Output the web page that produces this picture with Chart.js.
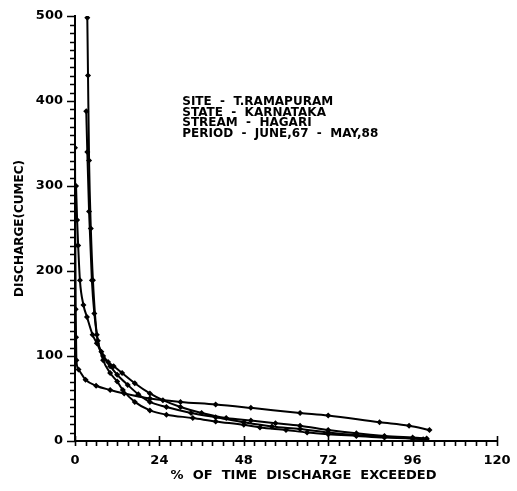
<!DOCTYPE html>
<html>
<head>
<meta charset="utf-8">
<script src="https://cdn.jsdelivr.net/npm/chart.js@4.4.1/dist/chart.umd.min.js"></script>
<style>
  html, body { margin: 0; padding: 0; background: #fff; }
  #wrap { width: 517px; height: 491px; position: relative; }
</style>
</head>
<body>
<div id="wrap"><canvas id="myChart"></canvas></div>
<script>
// flow duration curves
const bX = [3.5, 3.7, 4.0, 4.5, 5.1, 6.2, 7.5, 9.4, 11, 13.4, 17, 21.3, 25, 30, 36, 43, 50, 57, 64, 72, 80, 88, 96, 100];
const bY = [498, 430, 330, 250, 189, 125, 105, 93, 88, 80, 68, 56, 48, 40, 33, 27, 24, 21, 18, 13, 9, 6, 4, 3];

const cX = [0.3, 0.6, 0.9, 1.4, 2.4, 3.4, 5, 6.2, 8, 10, 12, 15, 18, 21.3, 26, 33, 40, 48, 56, 64, 72, 80, 88, 96, 100];
const cY = [300, 260, 230, 189, 160, 146, 125, 115, 100, 88, 78, 66, 55, 46, 40, 33, 28, 22, 17, 14, 10, 7, 5, 3, 2];

const dX = [3.2, 3.5, 4, 4.8, 5.5, 6.5, 8, 10, 12, 13.6, 17, 21.3, 26, 33.5, 40, 48, 52.6, 60, 66, 72, 80, 88, 96, 99];
const dY = [388, 340, 270, 189, 150, 118, 95, 80, 70, 60, 46, 36, 31, 27, 23, 19, 16, 13, 10, 8, 6, 4, 3, 2];

const eX = [0, 0.1, 0.2, 0.3, 0.4, 1, 3, 6, 10, 14, 21.3, 30, 40, 50, 64, 72, 86.6, 95, 100.8];
const eY = [345, 230, 155, 122, 95, 84, 72, 65, 60, 56, 50, 46, 43, 39, 33, 30, 22, 18, 13];

const xTickLabels = [0, 24, 48, 72, 96, 120];
const yTickLabels = [0, 100, 200, 300, 400, 500];

const xTitle = "%  OF  TIME  DISCHARGE  EXCEEDED";
const yTitle = "DISCHARGE(CUMEC)";

const noteLines = [
  "SITE  -  T.RAMAPURAM",
  "STATE  -  KARNATAKA",
  "STREAM  -  HAGARI",
  "PERIOD  -  JUNE,67  -  MAY,88"
];

const FONT = "'DejaVu Sans', sans-serif";

function pts(xs, ys) {
  return xs.map((x, i) => ({ x: x, y: ys[i] }));
}

function series(xs, ys) {
  return {
    data: pts(xs, ys),
    borderColor: "#000",
    backgroundColor: "#000",
    borderWidth: 2,
    pointStyle: "rectRot",
    pointRadius: 1.6,
    pointHoverRadius: 1.6,
    cubicInterpolationMode: "monotone",
  };
}

// comb of tick marks on both axes (minor every step, major where labelled)
const tickPlugin = {
  id: "combTicks",
  afterDraw(chart) {
    const ctx = chart.ctx;
    const xs = chart.scales.x, ys = chart.scales.y;
    const area = chart.chartArea;
    ctx.save();
    ctx.strokeStyle = "#000";
    ctx.lineWidth = 1.6;
    ctx.beginPath();
    xs.ticks.forEach((t) => {
      const px = Math.round(xs.getPixelForValue(t.value)) + 0.5;
      const major = xTickLabels.includes(t.value);
      ctx.moveTo(px, area.bottom + (major ? -5 : 0));
      ctx.lineTo(px, area.bottom + 5);
    });
    ys.ticks.forEach((t) => {
      const py = Math.round(ys.getPixelForValue(t.value)) + 0.5;
      const major = yTickLabels.includes(t.value);
      ctx.moveTo(area.left - (major ? 8 : 5), py);
      ctx.lineTo(area.left, py);
    });
    ctx.stroke();

    // x axis title sits a little right of the plot centre in the original
    ctx.fillStyle = "#000";
    ctx.font = "bold 13px " + FONT;
    ctx.textAlign = "center";
    ctx.textBaseline = "middle";
    ctx.fillText(xTitle, xs.getPixelForValue(65), area.bottom + 35);
    ctx.restore();
  }
};

// text block in the upper middle of the plot
const notePlugin = {
  id: "note",
  afterDatasetsDraw(chart) {
    const ctx = chart.ctx;
    const xs = chart.scales.x, ys = chart.scales.y;
    const left = xs.getPixelForValue(30.5);
    const top = ys.getPixelForValue(406);
    ctx.save();
    ctx.fillStyle = "#000";
    ctx.font = "bold 12px " + FONT;
    ctx.textBaseline = "top";
    noteLines.forEach((t, i) => {
      ctx.fillText(t, left, top + i * 10.5);
    });
    ctx.restore();
  }
};

const mychart = document.getElementById("myChart");

new Chart(mychart, {
  type: "line",
  data: {
    datasets: [series(bX, bY), series(cX, cY), series(dX, dY), series(eX, eY)],
  },
  plugins: [tickPlugin, notePlugin],
  options: {
    responsive: true,
    maintainAspectRatio: false,
    animation: false,
    layout: { padding: { top: 16, right: 20, left: 0, bottom: 0 } },
    plugins: {
      legend: { display: false },
      tooltip: { enabled: false },
    },
    scales: {
      x: {
        type: "linear",
        min: 0,
        max: 120,
        afterFit: (s) => { s.height = 50; },
        border: { display: true, color: "#000", width: 2 },
        grid: { display: true, drawOnChartArea: false, drawTicks: true, tickLength: 6, color: "rgba(0,0,0,0)" },
        ticks: {
          stepSize: 3,
          maxTicksLimit: 100,
          autoSkip: false,
          maxRotation: 0,
          color: "#000",
          padding: 6,
          font: { family: FONT, size: 13, weight: "bold" },
          callback: (v) => (xTickLabels.includes(v) ? String(v) : ""),
        },
        title: { display: false },
      },
      y: {
        min: 0,
        max: 500,
        afterFit: (s) => { s.width = 75; },
        border: { display: true, color: "#000", width: 2 },
        grid: { display: true, drawOnChartArea: false, drawTicks: true, tickLength: 6, color: "rgba(0,0,0,0)" },
        ticks: {
          stepSize: 10,
          maxTicksLimit: 100,
          autoSkip: false,
          color: "#000",
          padding: 6,
          font: { family: FONT, size: 13, weight: "bold" },
          callback: (v) => (yTickLabels.includes(v) ? String(v) : ""),
        },
        title: {
          display: true,
          text: yTitle,
          color: "#000",
          font: { family: FONT, size: 12, weight: "bold" },
          padding: { top: 13, bottom: 0 },
        },
      },
    },
  },
});
</script>
</body>
</html>
